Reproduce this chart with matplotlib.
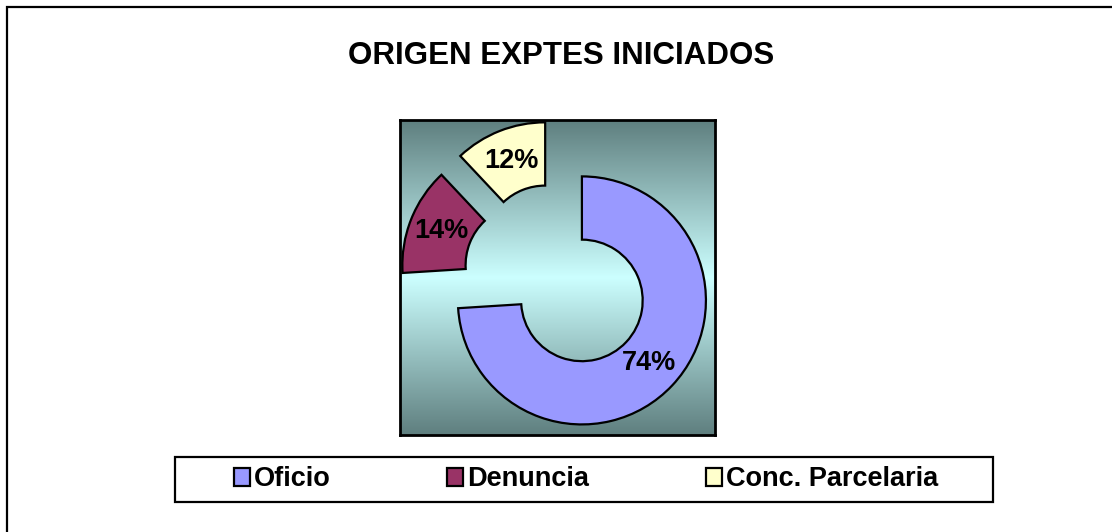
import numpy as np
import matplotlib
matplotlib.use("Agg")
import matplotlib.pyplot as plt
from matplotlib.patches import Patch, Rectangle

plt.rcParams['font.family'] = ['Liberation Sans', 'DejaVu Sans']
plt.rcParams['font.weight'] = 'bold'

# ── data ──────────────────────────────────────────────────────────────
categories = ["Oficio", "Denuncia", "Conc. Parcelaria"]
values = [74, 14, 12]
colors = ["#9999FF", "#993366", "#FFFFCC"]
title = "ORIGEN EXPTES INICIADOS"

W, H = 1112, 532
fig = plt.figure(figsize=(W / 100, H / 100), dpi=100)

# outer chart border (only top and left are inside the picture)
fig.patches.append(Rectangle((7 / W, -0.5), 2.0, 1.5 - 7 / H, fill=False,
                             edgecolor='black', lw=1.6, transform=fig.transFigure))

# plot area
ax = fig.add_axes([400 / W, 1 - 435 / H, 315 / W, 315 / H])

# vertical gradient background: dark slate at edges, pale cyan in the middle
top = np.array([0x5f, 0x7f, 0x7f]) / 255
mid = np.array([0xcc, 0xff, 0xff]) / 255
t = np.abs(np.linspace(-1, 1, 256))[:, None]
grad = mid * (1 - t) + top * t
ax.imshow(grad[:, None, :], extent=[0, 1, 0, 1], transform=ax.transAxes,
          aspect='auto', zorder=0)

wedges, texts, autotexts = ax.pie(
    values, colors=colors, startangle=90, counterclock=False,
    explode=[0.27] * len(values), autopct='%1.0f%%', pctdistance=0.74,
    wedgeprops=dict(width=0.51, edgecolor='black', linewidth=1.6),
    textprops=dict(fontsize=19.5, fontweight='bold', color='black'))
for w in wedges:
    w.set_zorder(2)
for a in autotexts:
    a.set_zorder(3)

ax.set_xlim(-1.27, 1.27)
ax.set_ylim(-1.27, 1.27)
ax.set_aspect('equal')
ax.set_xticks([]); ax.set_yticks([])
ax.set_frame_on(True)
for s in ax.spines.values():
    s.set_visible(True)
    s.set_linewidth(2.0)
    s.set_color('black')
    s.set_zorder(5)

fig.text(561 / W, 1 - 56 / H, title, ha='center', va='center',
         fontsize=22.5, fontweight='bold')

# legend box
fig.patches.append(Rectangle((175 / W, 1 - 502 / H), (993 - 175) / W, 45 / H,
                             fill=False, edgecolor='black', lw=1.6,
                             transform=fig.transFigure))
handles = [Patch(facecolor=c, edgecolor='black', linewidth=1.6) for c in colors]
fig.legend(handles, categories, loc='center', ncol=3,
           bbox_to_anchor=(586 / W, 1 - 479.5 / H), frameon=False,
           prop=dict(size=19.5, weight='bold'), handlelength=0.6,
           handleheight=0.6, handletextpad=0.15, columnspacing=4.3)

fig.savefig("out.png", dpi=100)
